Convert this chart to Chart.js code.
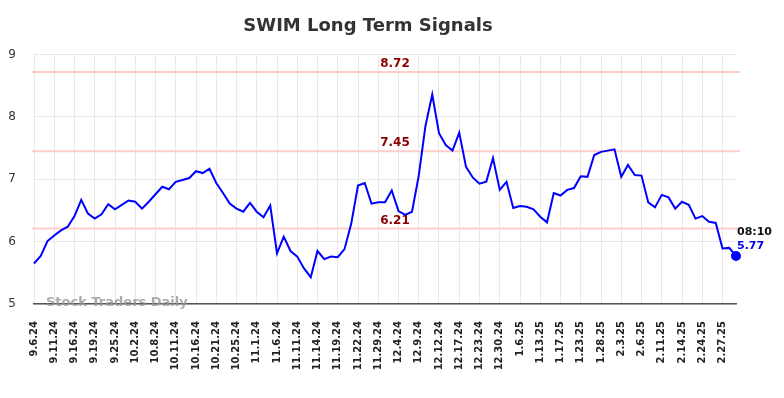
<!DOCTYPE html>
<html>
<head>
<meta charset="utf-8">
<script src="https://cdn.jsdelivr.net/npm/chart.js@4"></script>
<style>
  html, body { margin: 0; padding: 0; background: #fff; }
  #wrap { width: 784px; height: 398px; }
</style>
</head>
<body>
<div id="wrap"><canvas id="chart"></canvas></div>
<script>
const chart = document.querySelector("#chart").getContext('2d');

// one label every third session
const tickLabels = ['9.6.24', '9.11.24', '9.16.24', '9.19.24', '9.25.24', '10.2.24', '10.8.24',
    '10.11.24', '10.16.24', '10.21.24', '10.25.24', '11.1.24', '11.6.24', '11.11.24', '11.14.24',
    '11.19.24', '11.22.24', '11.29.24', '12.4.24', '12.9.24', '12.12.24', '12.17.24', '12.23.24',
    '12.30.24', '1.6.25', '1.13.25', '1.17.25', '1.23.25', '1.28.25', '2.3.25', '2.6.25',
    '2.11.25', '2.14.25', '2.24.25', '2.27.25'];

const prices = [
    5.65, 5.77, 6.01, 6.10, 6.18, 6.24, 6.41, 6.67, 6.45, 6.37,
    6.44, 6.60, 6.52, 6.59, 6.66, 6.64, 6.53, 6.64, 6.76, 6.88,
    6.84, 6.96, 6.99, 7.02, 7.13, 7.10, 7.17, 6.94, 6.78, 6.61,
    6.53, 6.48, 6.62, 6.48, 6.39, 6.58, 5.81, 6.08, 5.85, 5.76,
    5.57, 5.43, 5.85, 5.72, 5.76, 5.75, 5.88, 6.29, 6.90, 6.94,
    6.61, 6.63, 6.63, 6.82, 6.49, 6.43, 6.48, 7.06, 7.86, 8.36,
    7.74, 7.55, 7.46, 7.75, 7.20, 7.03, 6.93, 6.96, 7.34, 6.83,
    6.96, 6.54, 6.57, 6.56, 6.52, 6.40, 6.31, 6.78, 6.74, 6.83,
    6.86, 7.05, 7.04, 7.39, 7.44, 7.46, 7.48, 7.04, 7.23, 7.07,
    7.06, 6.63, 6.55, 6.75, 6.71, 6.53, 6.64, 6.59, 6.37, 6.41,
    6.32, 6.30, 5.89, 5.90, 5.77
];

const levels = [8.72, 7.45, 6.21];
const lastTime = '08:10';

const labels = prices.map((p, i) => i % 3 === 0 ? tickLabels[i / 3] : '');
const lastIdx = prices.length - 1;

const extras = {
    id: 'extras',
    beforeDatasetsDraw(c) {
        const { ctx, chartArea: a, scales: { y } } = c;
        ctx.save();
        ctx.strokeStyle = '#ffcccc';
        ctx.lineWidth = 2;
        levels.forEach(v => {
            const py = y.getPixelForValue(v);
            ctx.beginPath();
            ctx.moveTo(a.left - 2, py);
            ctx.lineTo(a.right + 4, py);
            ctx.stroke();
        });
        ctx.fillStyle = '#8b0000';
        ctx.font = 'bold 12px "DejaVu Sans"';
        ctx.textAlign = 'center';
        ctx.textBaseline = 'middle';
        levels.forEach(v => {
            ctx.fillText(v.toFixed(2), 395, y.getPixelForValue(v) - 8);
        });
        ctx.font = 'bold 13px "DejaVu Sans"';
        ctx.fillStyle = 'rgba(150,150,150,0.8)';
        ctx.textAlign = 'left';
        ctx.fillText('Stock Traders Daily', 46, a.bottom - 1);
        ctx.restore();
    },
    afterDatasetsDraw(c) {
        const { ctx } = c;
        const pt = c.getDatasetMeta(0).data[lastIdx];
        ctx.save();
        ctx.font = 'bold 11px "DejaVu Sans"';
        ctx.textAlign = 'left';
        ctx.textBaseline = 'middle';
        ctx.fillStyle = '#111';
        ctx.fillText(lastTime, pt.x + 1, pt.y - 24);
        ctx.fillStyle = '#0000ee';
        ctx.fillText(prices[lastIdx].toFixed(2), pt.x + 1, pt.y - 10);
        ctx.restore();
    }
};

new Chart(chart, {
    type: 'line',
    data: {
        labels: labels,
        datasets: [
            {
                data: prices,
                borderColor: '#0000ff',
                backgroundColor: '#0000ff',
                borderWidth: 2,
                tension: 0,
                pointRadius: ctx => ctx.dataIndex === lastIdx ? 4 : 0,
                pointHoverRadius: 0
            }
        ]
    },
    options: {
        responsive: true,
        maintainAspectRatio: false,
        animation: false,
        layout: { padding: { top: 6, right: 48, left: 0, bottom: 0 } },
        plugins: {
            legend: { display: false },
            tooltip: { enabled: false },
            title: {
                display: true,
                text: 'SWIM Long Term Signals',
                color: '#333',
                font: { family: 'DejaVu Sans', size: 18, weight: 'bold' },
                padding: { top: 10, bottom: 17 }
            }
        },
        scales: {
            x: {
                afterFit: s => { s.height = 94; },
                grid: {
                    drawTicks: false,
                    color: ctx => ctx.index % 3 === 0 ? '#e8e8e8' : 'rgba(0,0,0,0)'
                },
                border: { color: '#555', width: 1.5 },
                ticks: {
                    autoSkip: false,
                    minRotation: 90,
                    maxRotation: 90,
                    padding: 17,
                    color: '#222',
                    font: { family: 'DejaVu Sans', size: 10, weight: 'bold' }
                }
            },
            y: {
                min: 5,
                max: 9,
                afterFit: s => { s.width = 34; },
                grid: { drawTicks: false, color: '#e8e8e8' },
                border: { display: false },
                ticks: {
                    stepSize: 1,
                    padding: 18,
                    color: '#333',
                    font: { family: 'DejaVu Sans', size: 12 }
                }
            }
        }
    },
    plugins: [extras]
});
</script>
</body>
</html>
